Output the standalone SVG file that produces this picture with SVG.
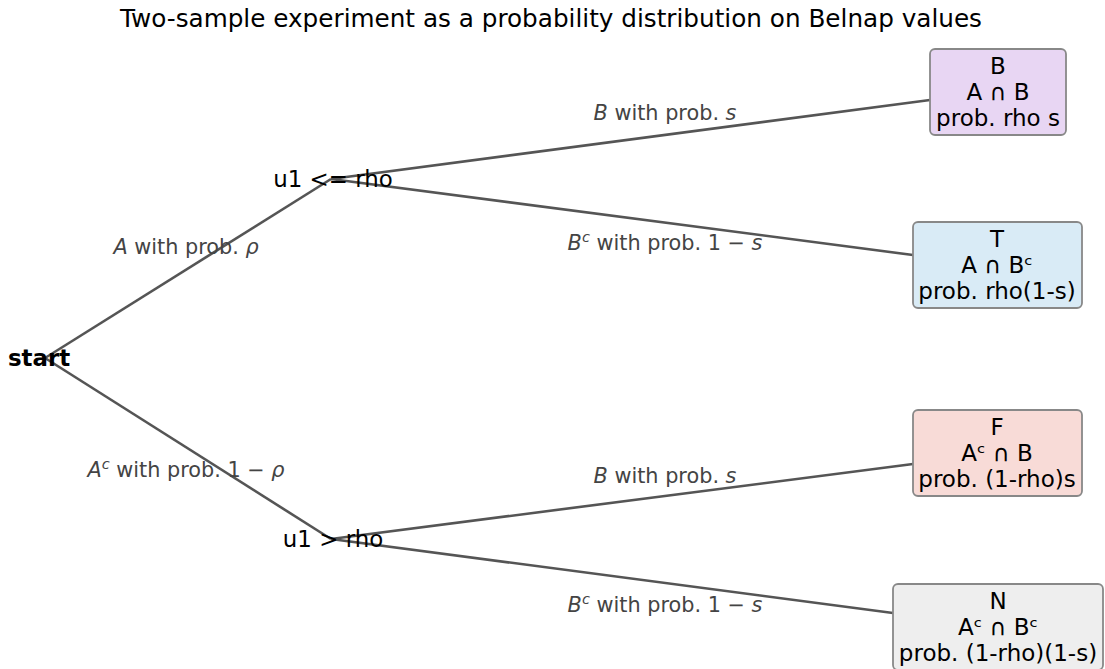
<svg xmlns="http://www.w3.org/2000/svg" width="1105" height="669" viewBox="0 0 1105 669">
<style>
text{font-family:"DejaVu Sans","Liberation Sans",sans-serif;}
.title{font-size:24.7px;fill:#000;text-anchor:middle;}
.node{font-size:22.9px;fill:#000;text-anchor:middle;}
.elab{font-size:20.8px;fill:#444;text-anchor:middle;}
.box{stroke:#888;stroke-width:1.8;}
.bt{font-size:23px;fill:#000;text-anchor:middle;}
.edge{stroke:#555;stroke-width:2.6;fill:none;}
</style>
<rect width="1105" height="669" fill="#fff"/>
<text class="title" x="551" y="27">Two-sample experiment as a probability distribution on Belnap values</text>
<g id="connectors">
<line class="edge" x1="45" y1="358" x2="331" y2="179"/>
<line class="edge" x1="45" y1="358" x2="331" y2="539"/>
<line class="edge" x1="331" y1="179" x2="930" y2="100"/>
<line class="edge" x1="331" y1="179" x2="913" y2="255"/>
<line class="edge" x1="331" y1="539" x2="913" y2="464"/>
<line class="edge" x1="331" y1="539" x2="893" y2="613"/>
<text class="elab" x="665" y="120"><tspan font-style="italic">B</tspan> with prob. <tspan font-style="italic">s</tspan></text>
<text class="elab" x="665" y="250"><tspan font-style="italic">B</tspan><tspan font-style="italic" font-size="14.5" dy="-8.5">c</tspan><tspan dy="8.5"> with prob. 1 − </tspan><tspan font-style="italic">s</tspan></text>
<text class="elab" x="186" y="254"><tspan font-style="italic">A</tspan> with prob. <tspan font-style="italic">ρ</tspan></text>
<text class="elab" x="186" y="477"><tspan font-style="italic">A</tspan><tspan font-style="italic" font-size="14.5" dy="-8.5">c</tspan><tspan dy="8.5"> with prob. 1 − </tspan><tspan font-style="italic">ρ</tspan></text>
<text class="elab" x="665" y="483"><tspan font-style="italic">B</tspan> with prob. <tspan font-style="italic">s</tspan></text>
<text class="elab" x="665" y="612"><tspan font-style="italic">B</tspan><tspan font-style="italic" font-size="14.5" dy="-8.5">c</tspan><tspan dy="8.5"> with prob. 1 − </tspan><tspan font-style="italic">s</tspan></text>
</g>
<g id="start"><text class="node" x="39" y="366" font-weight="bold">start</text></g>
<g id="u1_le_rho"><text class="node" x="333" y="187">u1 &lt;= rho</text></g>
<g id="u1_gt_rho"><text class="node" x="333" y="547">u1 &gt; rho</text></g>
<g id="B">
<rect class="box" x="930" y="49" width="136" height="86" rx="5" fill="#e8d6f3"/>
<text class="bt" x="998" y="74">B</text>
<text class="bt" x="998" y="100">A ∩ B</text>
<text class="bt" x="998" y="126">prob. rho s</text>
</g>
<g id="T">
<rect class="box" x="913" y="222" width="169" height="86" rx="5" fill="#d9ebf6"/>
<text class="bt" x="997" y="247">T</text>
<text class="bt" x="997" y="273">A ∩ Bᶜ</text>
<text class="bt" x="997" y="299">prob. rho(1-s)</text>
</g>
<g id="F">
<rect class="box" x="913" y="410" width="169" height="86" rx="5" fill="#f8dbd7"/>
<text class="bt" x="997" y="435">F</text>
<text class="bt" x="997" y="461">Aᶜ ∩ B</text>
<text class="bt" x="997" y="487">prob. (1-rho)s</text>
</g>
<g id="N">
<rect class="box" x="893" y="584" width="210" height="86" rx="5" fill="#eeeeee"/>
<text class="bt" x="998" y="609">N</text>
<text class="bt" x="998" y="635">Aᶜ ∩ Bᶜ</text>
<text class="bt" x="998" y="661">prob. (1-rho)(1-s)</text>
</g>
</svg>
